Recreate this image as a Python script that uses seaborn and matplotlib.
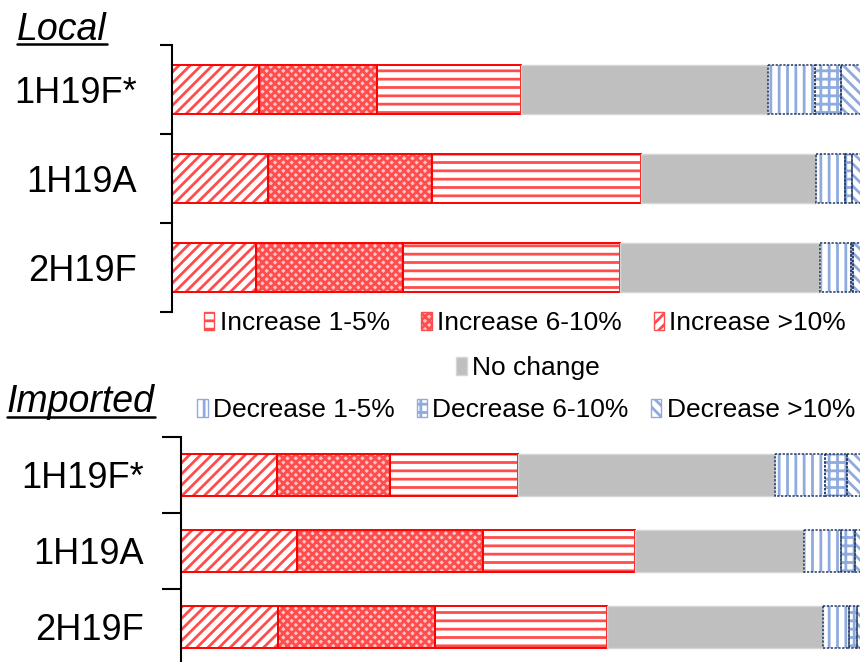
import matplotlib
matplotlib.use('Agg')
import matplotlib.pyplot as plt
from matplotlib.patches import Patch
from matplotlib.lines import Line2D
import seaborn as sns

# categories (top to bottom) and segment names (left to right)
categories = ['1H19F*', '1H19A', '2H19F']
seg_labels = ['Increase >10%', 'Increase 6-10%', 'Increase 1-5%', 'No change',
              'Decrease 1-5%', 'Decrease 6-10%', 'Decrease >10%']

# Local (% of respondents)
local_inc10 = [12.6, 13.9, 12.2]
local_inc6 = [17.1, 23.8, 21.3]
local_inc1 = [20.9, 30.3, 31.4]
local_nochg = [35.8, 25.4, 29.0]
local_dec1 = [6.8, 4.2, 4.5]
local_dec6 = [3.8, 1.0, 0.3]
local_dec10 = [3.0, 1.4, 1.3]

# Imported (% of respondents)
imp_inc10 = [14.0, 17.0, 14.2]
imp_inc6 = [16.5, 27.2, 23.0]
imp_inc1 = [18.7, 22.2, 25.1]
imp_nochg = [37.7, 24.7, 31.6]
imp_dec1 = [7.3, 5.4, 3.7]
imp_dec6 = [3.1, 2.0, 1.3]
imp_dec10 = [2.7, 1.5, 1.1]

sns.set_style('white')
plt.rcParams['font.family'] = ['Liberation Sans', 'DejaVu Sans']
plt.rcParams['hatch.linewidth'] = 2.0
plt.rcParams['text.color'] = 'black'
plt.rcParams['ytick.labelcolor'] = 'black'
plt.rcParams['legend.labelcolor'] = 'black'

RED, RED_H = '#FF0000', '#FF4D4D'
BLUE_E, BLUE_H = '#203864', '#8FAADC'
GREY = '#BFBFBF'
DASH = (0, (1.5, 1))

# fc: fill, hc: hatch colour, ec: border colour
styles = [
    dict(fc='white', hc=RED_H, ec=RED, hatch='///', lw=1.4, ls='-'),
    dict(fc='#FFC4C4', hc=RED_H, ec=RED, hatch='xxxx', lw=1.4, ls='-'),
    dict(fc='white', hc=RED_H, ec=RED, hatch='--', lw=1.4, ls='-'),
    dict(fc=GREY, hc=GREY, ec='#D6D6D6', hatch=None, lw=1.0, ls='-'),
    dict(fc='white', hc=BLUE_H, ec=BLUE_E, hatch='||', lw=1.1, ls=DASH),
    dict(fc='white', hc=BLUE_H, ec=BLUE_E, hatch='++', lw=1.1, ls=DASH),
    dict(fc='white', hc=BLUE_H, ec=BLUE_E, hatch='\\\\\\', lw=1.1, ls=DASH),
]


def draw_panel(ax, segments, bar_w, tick_len, pad):
    lefts = [0.0] * len(categories)
    starts = []
    for vals in segments:
        starts.append(list(lefts))
        lefts = [l + v for l, v in zip(lefts, vals)]
    # fill + hatch
    for vals, left, st in zip(segments, starts, styles):
        sns.barplot(x=vals, y=categories, orient='h', left=left, width=bar_w,
                    errorbar=None, ax=ax, color=st['hc'], saturation=1,
                    facecolor=st['fc'], edgecolor=st['hc'],
                    hatch=st['hatch'], linewidth=0)
    # borders on top
    for vals, left, st in zip(segments, starts, styles):
        sns.barplot(x=vals, y=categories, orient='h', left=left, width=bar_w,
                    errorbar=None, ax=ax, color=st['ec'], saturation=1,
                    facecolor='none', edgecolor=st['ec'],
                    linewidth=st['lw'], linestyle=st['ls'])
    ax.set_xlim(0, 100)
    ax.set_ylim(2.5, -0.5)
    ax.set_xticks([])
    ax.set_xlabel('')
    ax.set_ylabel('')
    ax.set_yticks([-0.5, 0.5, 1.5, 2.5])
    ax.set_yticklabels([])
    ax.set_yticks([0, 1, 2], minor=True)
    ax.set_yticklabels(categories, minor=True, fontsize=26, color='black')
    ax.tick_params(axis='y', which='major', left=True, length=tick_len, width=1.5,
                   color='black', direction='out')
    ax.tick_params(axis='y', which='minor', left=True, length=0, pad=pad)
    for s in ['top', 'right', 'bottom']:
        ax.spines[s].set_visible(False)
    ax.spines['left'].set_color('black')
    ax.spines['left'].set_linewidth(1.5)


W, H = 860, 662
fig = plt.figure(figsize=(8.6, 6.62), dpi=100)

ax1 = fig.add_axes([172 / W, 1 - 312 / H, 690 / W, 267 / H])
draw_panel(ax1, [local_inc10, local_inc6, local_inc1, local_nochg,
                 local_dec1, local_dec6, local_dec10], 0.54, 8.6, 25)

ax2 = fig.add_axes([181 / W, 1 - 665 / H, 684 / W, 228 / H])
draw_panel(ax2, [imp_inc10, imp_inc6, imp_inc1, imp_nochg,
                 imp_dec1, imp_dec6, imp_dec10], 0.55, 14, 27)

# panel titles (italic, underlined)
t1 = fig.text(17 / W, 1 - 40 / H, 'Local', fontsize=27, style='italic',
              ha='left', va='baseline')
t2 = fig.text(7 / W, 1 - 412 / H, 'Imported', fontsize=27, style='italic',
              ha='left', va='baseline')


def handle(i):
    st = styles[i]
    return Patch(facecolor=st['fc'], edgecolor=st['ec'] if st['hatch'] is None else st['hc'],
                 hatch=st['hatch'], linewidth=1.0)


leg_kw = dict(frameon=False, fontsize=19, handlelength=0.4, handleheight=0.7,
              handletextpad=0.2, loc='center', borderpad=0, borderaxespad=0)
row1 = [2, 1, 0]
row3 = [4, 5, 6]
fig.legend([handle(i) for i in row1], [seg_labels[i] for i in row1], ncol=3,
           columnspacing=1.2, bbox_to_anchor=(525 / W, 1 - 323 / H), **leg_kw)
fig.legend([handle(3)], [seg_labels[3]], ncol=1,
           bbox_to_anchor=(528 / W, 1 - 368 / H), **leg_kw)
fig.legend([handle(i) for i in row3], [seg_labels[i] for i in row3], ncol=3,
           columnspacing=0.83, bbox_to_anchor=(526 / W, 1 - 410 / H), **leg_kw)

fig.canvas.draw()
r = fig.canvas.get_renderer()
for t, off in [(t1, 4), (t2, 5)]:
    bb = t.get_window_extent(r).transformed(fig.transFigure.inverted())
    y = t.get_position()[1] - off / H
    fig.add_artist(Line2D([bb.x0, bb.x1], [y, y], transform=fig.transFigure,
                          color='black', linewidth=1.8))

fig.savefig('out.png', dpi=100)
